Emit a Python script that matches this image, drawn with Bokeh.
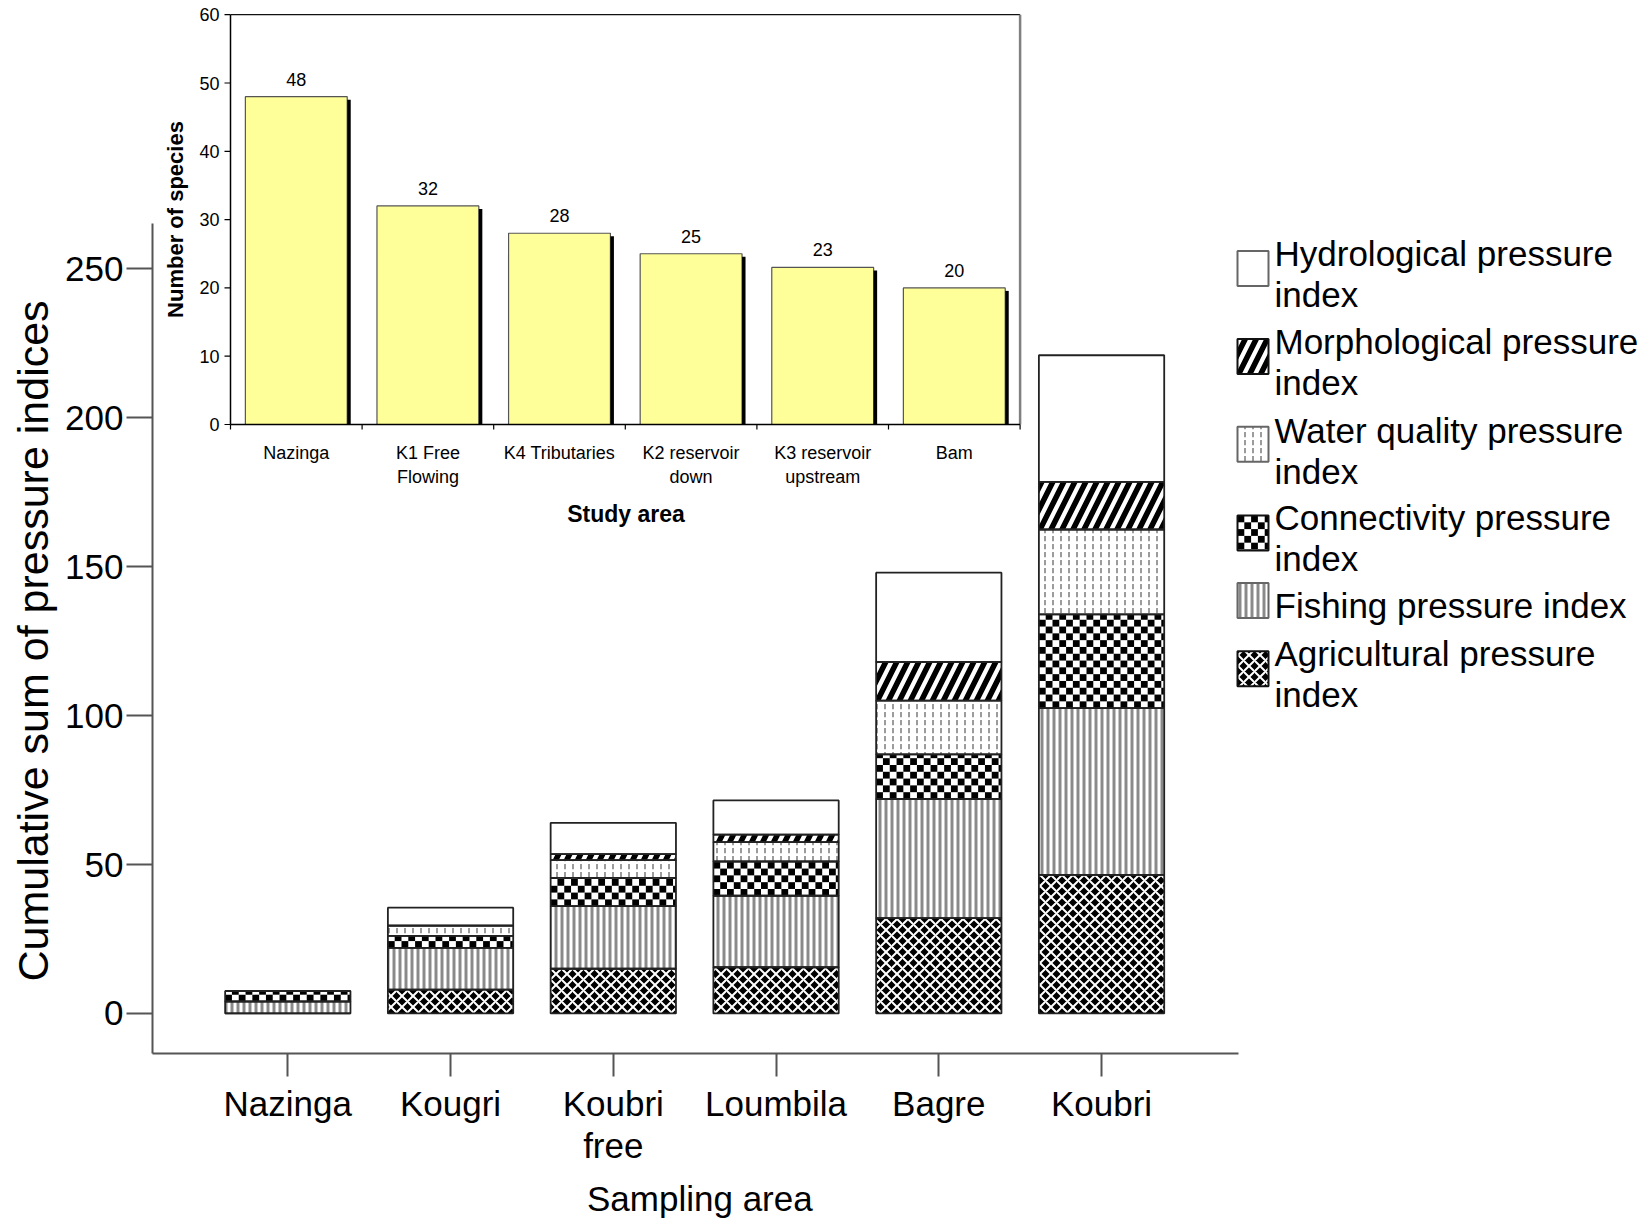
import numpy as np
from bokeh.plotting import figure
from bokeh.models import Range1d, LinearAxis, FixedTicker, Title
from bokeh.core.properties import value
from bokeh.embed import file_html
from bokeh.resources import INLINE

# ---- main chart: cumulative pressure indices per sampling area ----
sites = ["Nazinga", "Kougri", "Koubri\nfree", "Loumbila", "Bagre", "Koubri"]
agricultural = [0, 8, 15, 15.5, 32, 46.5]
fishing = [4, 14, 21, 24, 40, 56]
connectivity = [3.5, 4, 9.5, 11.5, 15, 31.5]
water_quality = [0, 3.5, 6, 6.5, 18, 28.5]
morphological = [0, 0, 2, 2.5, 13, 16]
hydrological = [0, 6, 10.5, 11.5, 30, 42.5]
main_ticks = [0, 50, 100, 150, 200, 250]

# ---- inset: number of species per study area ----
study_areas = ["Nazinga", "K1 Free\nFlowing", "K4 Tributaries",
               "K2 reservoir\ndown", "K3 reservoir\nupstream", "Bam"]
species = [48, 32, 28, 25, 23, 20]
inset_ticks = [0, 10, 20, 30, 40, 50, 60]

SANS = "Liberation Sans"

# ---- canvas geometry (pixels) ----
W, H = 1651, 1229
FL, FT, FB = 152, 0, 1053
FR = W
fw, fh = FR - FL, FB - FT

# main scales
cx0, cdx = 287.3, 162.75        # centre of first site, spacing
vy0, vdy = 1012.9, 2.978        # pixel row of 0, pixels per unit
x_start = 1 - (cx0 - FL) / cdx
x_end = x_start + fw / cdx
y_start = -(FB - vy0) / vdy
y_end = y_start + fh / vdy
x_axis_end = 1 + (1237.8 - cx0) / cdx
y_axis_top = (vy0 - 223.2) / vdy
BAR_W = 0.77

# inset scales
ix0, idx = 230.0, 131.6
iy0, idy = 424.0, 6.83
ix_start = (FL - ix0) / idx
ix_end = ix_start + fw / idx
iy_start = (iy0 - FB) / idy
iy_end = iy_start + fh / idy

p = figure(width=W, height=H, output_backend="svg", toolbar_location=None,
           x_range=Range1d(x_start, x_end), y_range=Range1d(y_start, y_end),
           x_axis_type=None, y_axis_type=None,
           min_border_left=FL, min_border_right=W - FR,
           min_border_top=FT, min_border_bottom=H - FB)
p.outline_line_color = None
p.background_fill_color = "white"
p.border_fill_color = "white"
p.extra_x_ranges = {"ix": Range1d(ix_start, ix_end), "px": Range1d(FL, FR)}
p.extra_y_ranges = {"iy": Range1d(iy_start, iy_end), "py": Range1d(FB, FT)}

# ---- main axes ----
yaxis = LinearAxis(ticker=FixedTicker(ticks=main_ticks), bounds=(y_start, y_axis_top),
                   axis_line_color="#555555", axis_line_width=2,
                   major_tick_line_color="#555555", major_tick_line_width=2,
                   major_tick_out=26, major_tick_in=0, minor_tick_out=0, minor_tick_in=0,
                   major_label_standoff=3,
                   major_label_text_font=SANS, major_label_text_font_size="35px",
                   major_label_text_color="black")
p.add_layout(yaxis, "left")

xs = np.arange(1, len(sites) + 1)
xaxis = LinearAxis(ticker=FixedTicker(ticks=[int(v) for v in xs]), bounds=(x_start, x_axis_end),
                   major_label_overrides={int(i): s for i, s in zip(xs, sites)},
                   axis_line_color="#555555", axis_line_width=2,
                   major_tick_line_color="#555555", major_tick_line_width=2,
                   major_tick_out=23, major_tick_in=0, minor_tick_out=0, minor_tick_in=0,
                   major_label_standoff=7,
                   major_label_text_font=SANS, major_label_text_font_size="35px",
                   major_label_text_line_height=1.1, major_label_text_color="black")
p.add_layout(xaxis, "below")

# axis titles, offset along their side so they sit under the axis spans
p.add_layout(Title(text="Cumulative sum of pressure indices", align="left",
                   offset=72, standoff=12, text_font=SANS, text_font_size="43px",
                   text_font_style="normal", text_color="black"), "left")
p.add_layout(Title(text="Sampling area", align="left", offset=434.5, standoff=16,
                   text_font=SANS, text_font_size="35px", text_line_height=0.8,
                   text_font_style="normal", text_color="black"), "below")

# ---- fill styles for the pressure indices ----
styles = {
    "agri": dict(fill_color="black", hatch_pattern="x", hatch_color="white",
                 hatch_scale=11, hatch_weight=2),
    "fish": dict(fill_color="white", hatch_pattern="|", hatch_color="#8a8a8a",
                 hatch_scale=6, hatch_weight=3),
    "conn": dict(fill_color="white"),
    "water": dict(fill_color="white", hatch_pattern=":", hatch_color="#7a7a7a",
                  hatch_scale=8, hatch_weight=1.5),
    "morph": dict(fill_color="white", hatch_pattern="/", hatch_color="black",
                  hatch_scale=22, hatch_weight=5.5),
    "hydro": dict(fill_color="white"),
}


def checker_cells(lefts, rights, bottoms, tops, cw, ch):
    """Black cells of a checkerboard filling each box, clipped to the box."""
    L, R, B, T = [], [], [], []
    for l, r, b, t in zip(lefts, rights, bottoms, tops):
        if abs(t - b) < 1e-9:
            continue
        lo, hi = min(b, t), max(b, t)
        ncol = int(np.ceil((r - l) / cw))
        nrow = int(np.ceil((hi - lo) / ch))
        for i in range(ncol):
            for j in range(nrow):
                if (i + j) % 2:
                    continue
                L.append(l + i * cw)
                R.append(min(l + (i + 1) * cw, r))
                B.append(lo + j * ch)
                T.append(min(lo + (j + 1) * ch, hi))
    return L, R, B, T


layers = [("agri", agricultural), ("fish", fishing), ("conn", connectivity),
          ("water", water_quality), ("morph", morphological), ("hydro", hydrological)]

CELL = 6.8  # checker cell size in pixels
bottom = np.zeros(len(sites))
segments = []
for key, vals in layers:
    top = bottom + np.asarray(vals, dtype=float)
    p.vbar(x=xs, bottom=bottom, top=top, width=BAR_W, line_color=None, **styles[key])
    if key == "conn":
        L, R, B, T = checker_cells(xs - BAR_W / 2, xs + BAR_W / 2, bottom, top,
                                   CELL / cdx, CELL / vdy)
        p.quad(left=L, right=R, bottom=B, top=T, fill_color="black", line_color=None)
    segments.append((bottom.copy(), top.copy()))
    bottom = top

# outlines of every stacked segment
for b, t in segments:
    p.vbar(x=xs, bottom=b, top=t, width=BAR_W, fill_color=None,
           line_color="#222222", line_width=1.8)

# ---- legend (pixel coordinates) ----
legend_items = [
    ("hydro", "Hydrological pressure\nindex", 268.0, 273.3),
    ("morph", "Morphological pressure\nindex", 356.0, 361.6),
    ("water", "Water quality pressure\nindex", 443.7, 450.5),
    ("conn", "Connectivity pressure\nindex", 532.5, 537.5),
    ("fish", "Fishing pressure index", 600.0, 605.0),
    ("agri", "Agricultural pressure\nindex", 668.3, 673.3),
]
SW, SH, SX = 31.0, 35.0, 1252.5
for key, label, by, ty in legend_items:
    lc = "#666666" if key in ("hydro", "water", "fish") else "#111111"
    p.rect(x=SX, y=by, width=SW, height=SH, line_color=None,
           x_range_name="px", y_range_name="py", **styles[key])
    if key == "conn":
        L, R, B, T = checker_cells([SX - SW / 2], [SX + SW / 2], [by - SH / 2], [by + SH / 2],
                                   CELL, CELL)
        p.quad(left=L, right=R, bottom=B, top=T, fill_color="black", line_color=None,
               x_range_name="px", y_range_name="py")
    p.rect(x=SX, y=by, width=SW, height=SH, fill_color=None, line_color=lc, line_width=2,
           x_range_name="px", y_range_name="py")
    p.text(x=[1274], y=[ty], text=[label], x_range_name="px", y_range_name="py",
           text_font=value(SANS), text_font_size="35px", text_color="black",
           text_align="left", text_baseline="middle", text_line_height=1.05)

# ---- inset: species bar chart ----
ic = np.arange(len(study_areas)) + 0.5
n_cat = len(study_areas)
ymax_in = inset_ticks[-1]
rk = dict(x_range_name="ix", y_range_name="iy")

p.quad(left=[0], right=[n_cat], bottom=[0], top=[ymax_in], fill_color="white",
       line_color=None, **rk)
p.vbar(x=ic, top=species, bottom=0, width=0.774, fill_color="#FFFF99",
       line_color="#555555", line_width=1.2, **rk)
p.quad(left=ic + 0.387, right=ic + 0.387 + 3.5 / idx, bottom=0,
       top=np.asarray(species) - 3 / idy, fill_color="black", line_color=None, **rk)

# frame and axes of the inset
p.segment(x0=[0, n_cat], y0=[ymax_in, 0], x1=[n_cat, n_cat], y1=[ymax_in, ymax_in],
          line_color=["#111111", "#808080"], line_width=[1.3, 2.5], **rk)
p.segment(x0=[0, 0], y0=[0, 0], x1=[0, n_cat], y1=[ymax_in, 0],
          line_color="black", line_width=1.5, **rk)
p.segment(x0=0, y0=inset_ticks, x1=-6 / idx, y1=inset_ticks,
          line_color="black", line_width=1.2, **rk)
bounds_in = np.arange(n_cat + 1)
p.segment(x0=bounds_in, y0=0, x1=bounds_in, y1=-5 / idy,
          line_color="black", line_width=1.2, **rk)
p.text(x=0, y=inset_ticks, text=[str(t) for t in inset_ticks], x_offset=-11,
       text_font=value(SANS), text_font_size="18px", text_color="black",
       text_align="right", text_baseline="middle", **rk)
p.text(x=ic, y=0, text=study_areas, y_offset=18,
       text_font=value(SANS), text_font_size="18px", text_color="black",
       text_align="center", text_baseline="top", text_line_height=1.2, **rk)
p.text(x=ic, y=species, text=[str(v) for v in species], y_offset=-11,
       text_font=value(SANS), text_font_size="18px", text_color="black",
       text_align="center", text_baseline="bottom", **rk)

# inset titles
p.text(x=[175], y=[219], text=["Number of species"], angle=np.pi / 2,
       text_font=value(SANS), text_font_size="22px", text_font_style="bold",
       text_color="black", text_align="center", text_baseline="middle",
       x_range_name="px", y_range_name="py")
p.text(x=[625.5], y=[513], text=["Study area"],
       text_font=value(SANS), text_font_size="23px", text_font_style="bold",
       text_color="black", text_align="center", text_baseline="middle",
       x_range_name="px", y_range_name="py")

open("out.html", "w").write(file_html(p, INLINE))
